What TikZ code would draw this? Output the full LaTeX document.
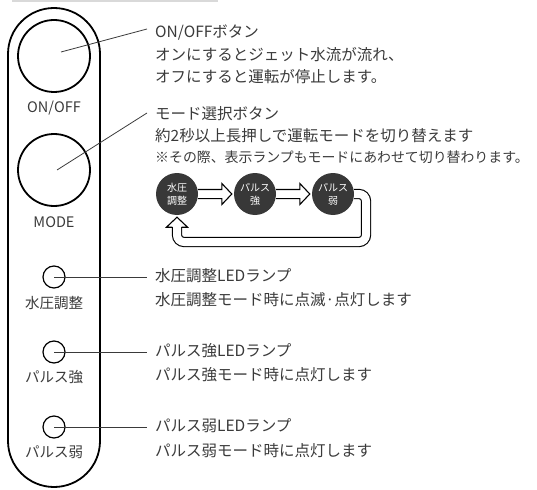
\documentclass[tikz,border=0pt]{standalone}
\usepackage{fontspec}
\setmainfont{Noto Sans CJK JP}
\usetikzlibrary{calc, positioning}
\definecolor{inkgray}{HTML}{3A3A3A}
\definecolor{modefill}{HTML}{383838}

\begin{document}
\begin{tikzpicture}[x=1pt, y=-1pt,
        button/.style={draw, circle, line width=1.8pt, minimum size=72pt, inner sep=0pt},
        lamp/.style={draw, circle, line width=1.2pt, minimum size=22pt, inner sep=0pt},
        bodytext/.style={text=inkgray, font=\fontsize{14.5}{16}\selectfont, inner sep=0pt},
        desc/.style={text=inkgray, font=\fontsize{15.5}{17}\selectfont, anchor=west, inner sep=0pt},
        leader/.style={draw=inkgray, line width=0.8pt},
        modedot/.style={circle, fill=modefill, minimum size=42pt, inner sep=0pt, text=white, align=center, font=\fontsize{10}{13}\selectfont},
        flowarrow/.style={line width=1.1pt, line join=miter},
        loopline/.style={double=white, double distance=8pt, line width=1.1pt, rounded corners=7pt}]
        \useasboundingbox (0,0) rectangle (537,489);
        \draw[black!15, line width=1.5pt] (12,0.8) -- (218,0.8);
        % remote body
        \draw[line width=1.8pt, rounded corners=46pt] (8,8) rectangle (100,487);
        \node[button] (onoff) at (54,56) {};
        \node[bodytext] (onofflbl) at (54,108) {ON/OFF};
        \node[button] (mode) at (54,170) {};
        \node[bodytext] (modelbl) at (54,222) {MODE};
        \node[lamp] (lampw) at (54,277) {};
        \node[bodytext] (lampwlbl) at (54,303) {水圧調整};
        \node[lamp] (lamps) at (54,352) {};
        \node[bodytext] (lampslbl) at (54,377) {パルス強};
        \node[lamp] (lampl) at (54,427) {};
        \node[bodytext] (lampllbl) at (54,452) {パルス弱};
        % descriptions
        \node[desc] (onofftitle) at (155,33) {ON/OFFボタン};
        \node[desc] (onoffline1) at (155,55) {オンにするとジェット水流が流れ、};
        \node[desc] (onoffline2) at (155,77) {オフにすると運転が停止します。};
        \node[desc] (modetitle) at (155,114) {モード選択ボタン};
        \node[desc] (modeline1) at (155,136) {約2秒以上長押しで運転モードを切り替えます};
        \node[desc, font=\fontsize{13.9}{16}\selectfont] (modeline2) at (155,157) {※その際、表示ランプもモードにあわせて切り替わります。};
        \node[desc] (lampwtitle) at (155,276) {水圧調整LEDランプ};
        \node[desc] (lampwline) at (155,300) {水圧調整モード時に点滅·点灯します};
        \node[desc] (lampstitle) at (155,351) {パルス強LEDランプ};
        \node[desc] (lampsline) at (155,375) {パルス強モード時に点灯します};
        \node[desc] (lampltitle) at (155,426) {パルス弱LEDランプ};
        \node[desc] (lamplline) at (155,451) {パルス弱モード時に点灯します};
        % leaders
        \draw[leader] ($(onoff.center)+(7,-4)$) -- ($(onofftitle.west)+(-8,-4)$);
        \draw[leader] ($(mode.center)+(3,0)$) -- ($(modetitle.west)+(-8,-1)$);
        \draw[leader] (lampw.center) -- ($(lampw.center -| lampwtitle.west)+(-8,0)$);
        \draw[leader] (lamps.center) -- ($(lamps.center -| lampstitle.west)+(-8,0)$);
        \draw[leader] (lampl.center) -- ($(lampl.center -| lampltitle.west)+(-8,0)$);
        % mode cycle
        \node[modedot] (w1) at (177,194) {水圧\\調整};
        \node[modedot] (w2) at (255,194) {パルス\\強};
        \node[modedot] (w3) at (333,194) {パルス\\弱};
        \coordinate (loop) at (366,242);
        \draw[flowarrow] ($(w1.east)+(0,-4.55)$) -- ($(w2.west)+(-12,-4.55)$) -- ++(0,-6) -- ($(w2.west)+(-2,0)$) -- ($(w2.west)+(-12,10.55)$) -- ++(0,-6) -- ($(w1.east)+(0,4.55)$);
        \draw[flowarrow] ($(w2.east)+(0,-4.55)$) -- ($(w3.west)+(-12,-4.55)$) -- ++(0,-6) -- ($(w3.west)+(-2,0)$) -- ($(w3.west)+(-12,10.55)$) -- ++(0,-6) -- ($(w2.east)+(0,4.55)$);
        \draw[loopline] (w3.east) -| (loop) -| ($(w1.south)+(0,12)$);
        \draw[flowarrow] ($(w1.south)+(-4.55,12)$) -- ++(-6,0) -- ($(w1.south)+(0,2)$) -- ($(w1.south)+(10.55,12)$) -- ++(-6,0);
    \end{tikzpicture}
\end{document}
